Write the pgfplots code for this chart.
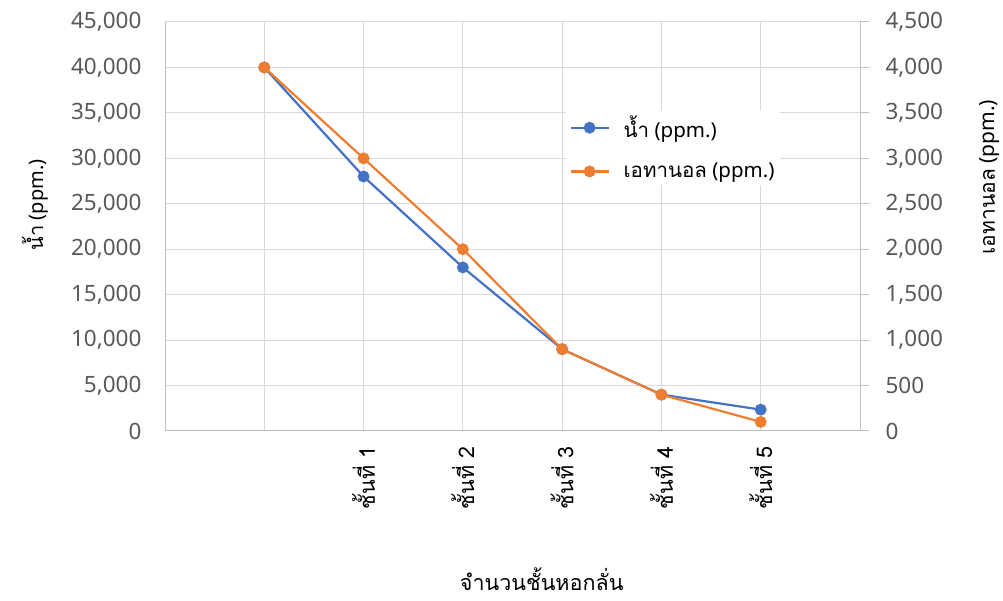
\documentclass[border=0pt]{standalone}
\usepackage{fontspec}
\usepackage{pgfplots}
\pgfplotsset{compat=1.18}
\setmainfont{Noto Sans}
\newfontfamily\thaifont[Script=Thai]{Loma}
\definecolor{cblue}{RGB}{68,114,196}
\definecolor{corange}{RGB}{237,125,49}
\definecolor{tickgray}{RGB}{89,89,89}
\definecolor{gridgray}{RGB}{217,217,217}
\definecolor{axisgray}{RGB}{191,191,191}
\begin{document}
\begin{tikzpicture}[x=1pt,y=1pt]
\useasboundingbox (0,0) rectangle (1003,601);
\pgfplotsset{
  every axis/.append style={
    at={(165pt,170pt)}, anchor=south west,
    scale only axis, width=695pt, height=409pt,
    xmin=-1, xmax=6,
    xtick={0,...,5},
    /pgf/number format/assume math mode=true,
    /pgf/number format/1000 sep={,},
    scaled y ticks=false,
    tick label style={font=\fontsize{22.5}{26}\selectfont, text=tickgray},
  }
}
\begin{axis}[
  ymin=0, ymax=45000, ytick={0,5000,...,45000},
  axis x line*=bottom, axis y line*=left,
  axis line style={draw=axisgray, line width=1pt},
  grid=major, major grid style={draw=gridgray, line width=1pt},
  major tick length=0pt,
  xticklabels={,{\thaifont ชั้นที่ 1},{\thaifont ชั้นที่ 2},{\thaifont ชั้นที่ 3},{\thaifont ชั้นที่ 4},{\thaifont ชั้นที่ 5}},
  xticklabel style={rotate=90, anchor=east, font=\thaifont\fontsize{21.5}{24}\selectfont, text=black},
  xticklabel shift=12pt,
  yticklabel shift=20pt,
  ylabel={{\thaifont น้ำ} (ppm.)},
  ylabel style={at={(axis description cs:-0.187,0.553)}, anchor=center, rotate=0, font=\fontsize{20}{24}\selectfont, text=black},
  xlabel={\thaifont จำนวนชั้นหอกลั่น},
  xlabel style={at={(axis description cs:0.542,-0.362)}, anchor=center, font=\thaifont\fontsize{21.5}{24}\selectfont, text=black},
]
\addplot[color=cblue, line width=2.2pt, mark=*, mark size=4.8pt, mark options={fill=cblue, draw=cblue}]
  coordinates {(0,40000) (1,28000) (2,18000) (3,9000) (4,4000) (5,2350)};
\end{axis}
\begin{axis}[
  ymin=0, ymax=4500, ytick={0,500,...,4500},
  axis x line=none, axis y line*=right,
  axis line style={draw=axisgray, line width=1pt},
  major tick style={draw=axisgray, line width=1pt},
  major tick length=9pt,
  tick align=outside,
  yticklabel shift=13pt,
  ylabel={{\thaifont เอทานอล} (ppm.)},
  ylabel style={at={(axis description cs:1.187,0.621)}, anchor=center, font=\fontsize{21}{24}\selectfont, text=black},
  legend style={at={(axis description cs:0.576,0.785)}, anchor=north west, draw=none, fill=white,
    font=\fontsize{20.5}{24}\selectfont, row sep=20pt, inner xsep=4pt, inner ysep=4pt,
    /tikz/every odd column/.append style={column sep=12pt}},
  legend cell align=left,
  legend image code/.code={\draw[#1, mark repeat=2, mark phase=2] plot coordinates {(0pt,0pt) (19pt,0pt) (38pt,0pt)};},
]
\addlegendimage{color=cblue, line width=2.2pt, mark=*, mark size=4.8pt, mark options={fill=cblue, draw=cblue}}
\addlegendentry{{\thaifont น้ำ} (ppm.)}
\addplot[color=corange, line width=2.2pt, mark=*, mark size=4.8pt, mark options={fill=corange, draw=corange}]
  coordinates {(0,4000) (1,3000) (2,2000) (3,900) (4,400) (5,100)};
\addlegendentry{{\thaifont เอทานอล} (ppm.)}
\end{axis}
\end{tikzpicture}
\end{document}
